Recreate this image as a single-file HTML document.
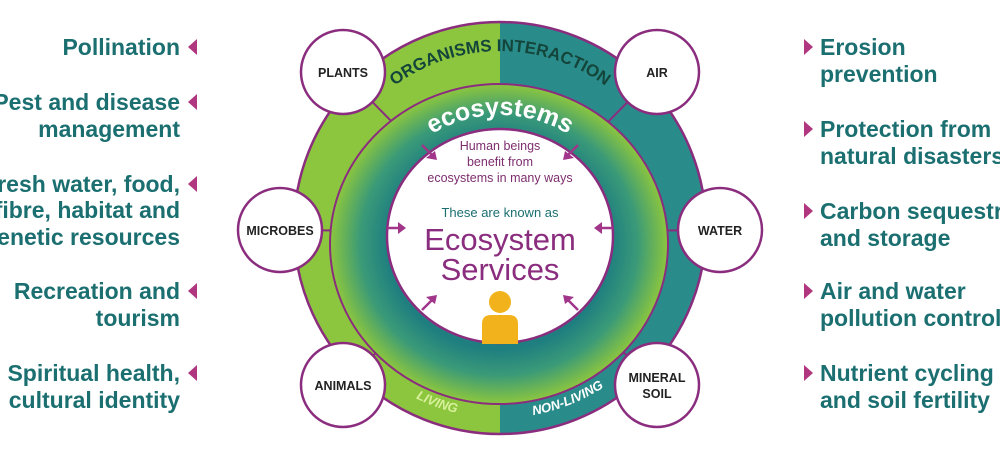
<!DOCTYPE html>
<html><head><meta charset="utf-8"><style>
html,body{margin:0;padding:0;background:#fff;}
svg{display:block;}
.side{font-family:"Liberation Sans",sans-serif;font-weight:bold;font-size:23px;fill:#1b6f70;}
.sat{font-family:"Liberation Sans",sans-serif;font-weight:bold;font-size:12.5px;fill:#222;text-anchor:middle;}
</style></head><body>
<svg width="1000" height="453" viewBox="0 0 1000 453" xmlns="http://www.w3.org/2000/svg">
<defs>
<radialGradient id="g" cx="0.5" cy="0.5" r="0.5">
<stop offset="0.66" stop-color="#1f7f80"/>
<stop offset="0.82" stop-color="#3a9a78"/>
<stop offset="1" stop-color="#8cc63e"/>
</radialGradient>
<path id="topOuter" d="M 323,228 A 177 177 0 0 1 677,228"/>
<path id="topInner" d="M 370,245 A 130 130 0 0 1 630,245"/>
<path id="bot" d="M 310,228 A 190 190 0 0 0 690,228"/>
</defs>
<g class="side" text-anchor="end">
<text x="180" y="55">Pollination</text>
<text x="180" y="110">Pest and disease</text>
<text x="180" y="137">management</text>
<text x="180" y="192">Fresh water, food,</text>
<text x="180" y="218">fibre, habitat and</text>
<text x="180" y="245">genetic resources</text>
<text x="180" y="299">Recreation and</text>
<text x="180" y="326">tourism</text>
<text x="180" y="381">Spiritual health,</text>
<text x="180" y="408">cultural identity</text>
</g>
<g fill="#b0377f">
<polygon points="197,39 197,55 188,47"/>
<polygon points="197,94 197,110 188,102"/>
<polygon points="197,176 197,192 188,184"/>
<polygon points="197,283 197,299 188,291"/>
<polygon points="197,365 197,381 188,373"/>
<polygon points="804,39 804,55 813,47"/>
<polygon points="804,121 804,137 813,129"/>
<polygon points="804,203 804,219 813,211"/>
<polygon points="804,283 804,299 813,291"/>
<polygon points="804,365 804,381 813,373"/>
</g>
<g class="side">
<text x="820" y="55">Erosion</text>
<text x="820" y="82">prevention</text>
<text x="820" y="137">Protection from</text>
<text x="820" y="164">natural disasters</text>
<text x="820" y="219">Carbon sequestration</text>
<text x="820" y="246">and storage</text>
<text x="820" y="299">Air and water</text>
<text x="820" y="326">pollution control</text>
<text x="820" y="381">Nutrient cycling</text>
<text x="820" y="408">and soil fertility</text>
</g>
<path d="M 500,22 A 206 206 0 0 0 500,434 Z" fill="#8cc63e"/>
<path d="M 500,22 A 206 206 0 0 1 500,434 Z" fill="#2a8b8b"/>
<circle cx="500" cy="228" r="206" fill="none" stroke="#8b2d7e" stroke-width="2.5"/>
<g stroke="#8b2d7e" stroke-width="2">
<line x1="500" y1="232" x2="343" y2="72"/>
<line x1="500" y1="232" x2="657" y2="72"/>
<line x1="500" y1="232" x2="280" y2="230"/>
<line x1="500" y1="232" x2="720" y2="230"/>
<line x1="500" y1="232" x2="343" y2="385"/>
<line x1="500" y1="232" x2="657" y2="385"/>
</g>
<ellipse cx="499" cy="244" rx="169" ry="160" fill="url(#g)" stroke="#8b2d7e" stroke-width="2"/>
<ellipse cx="500" cy="236" rx="113" ry="107" fill="#fff" stroke="#8b2d7e" stroke-width="2.5"/>
<text font-family="Liberation Sans,sans-serif" font-weight="bold" font-size="17" fill="#14453a"><textPath href="#topOuter" startOffset="50%" text-anchor="middle">ORGANISMS INTERACTION</textPath></text>
<text font-family="Liberation Sans,sans-serif" font-weight="bold" font-size="25" fill="#fff"><textPath href="#topInner" startOffset="50%" text-anchor="middle">ecosystems</textPath></text>
<text font-family="Liberation Sans,sans-serif" font-weight="bold" font-style="italic" font-size="13" fill="#d8f09a"><textPath href="#bot" startOffset="39%" text-anchor="middle">LIVING</textPath></text>
<text font-family="Liberation Sans,sans-serif" font-weight="bold" font-style="italic" font-size="13" fill="#fff"><textPath href="#bot" startOffset="62%" text-anchor="middle">NON-LIVING</textPath></text>
<g font-family="Liberation Sans,sans-serif" text-anchor="middle">
<text x="500" y="150" font-size="12.5" fill="#7d2e6e">Human beings</text>
<text x="500" y="166" font-size="12.5" fill="#7d2e6e">benefit from</text>
<text x="500" y="182" font-size="12.5" fill="#7d2e6e">ecosystems in many ways</text>
<text x="500" y="217" font-size="13" fill="#1b6f70">These are known as</text>
<text x="500" y="250" font-size="31" fill="#8b2d7e">Ecosystem</text>
<text x="500" y="280" font-size="31" fill="#8b2d7e">Services</text>
</g>
<g stroke="#a0358a" stroke-width="2.5" fill="#a0358a">
<line x1="422" y1="145" x2="433" y2="156"/><polygon points="437,160 426,158 435,151" stroke="none"/>
<line x1="578" y1="145" x2="567" y2="156"/><polygon points="563,160 574,158 565,151" stroke="none"/>
<line x1="387" y1="228" x2="400" y2="228"/><polygon points="406,228 398,222 398,234" stroke="none"/>
<line x1="613" y1="228" x2="600" y2="228"/><polygon points="594,228 602,222 602,234" stroke="none"/>
<line x1="422" y1="310" x2="433" y2="299"/><polygon points="437,295 426,297 435,304" stroke="none"/>
<line x1="578" y1="310" x2="567" y2="299"/><polygon points="563,295 574,297 565,304" stroke="none"/>
</g>
<g fill="#f2b21c">
<circle cx="500" cy="302" r="11"/>
<path d="M 482,344 L 482,324 Q 482,315 491,315 L 509,315 Q 518,315 518,324 L 518,344 Z"/>
</g>
<g fill="#fff" stroke="#8b2d7e" stroke-width="2.5">
<circle cx="343" cy="72" r="42"/>
<circle cx="657" cy="72" r="42"/>
<circle cx="280" cy="230" r="42"/>
<circle cx="720" cy="230" r="42"/>
<circle cx="343" cy="385" r="42"/>
<circle cx="657" cy="385" r="42"/>
</g>
<text class="sat" x="343" y="77">PLANTS</text>
<text class="sat" x="657" y="77">AIR</text>
<text class="sat" x="280" y="235">MICROBES</text>
<text class="sat" x="720" y="235">WATER</text>
<text class="sat" x="343" y="390">ANIMALS</text>
<text class="sat" x="657" y="382">MINERAL</text>
<text class="sat" x="657" y="398">SOIL</text>
</svg>
</body></html>
